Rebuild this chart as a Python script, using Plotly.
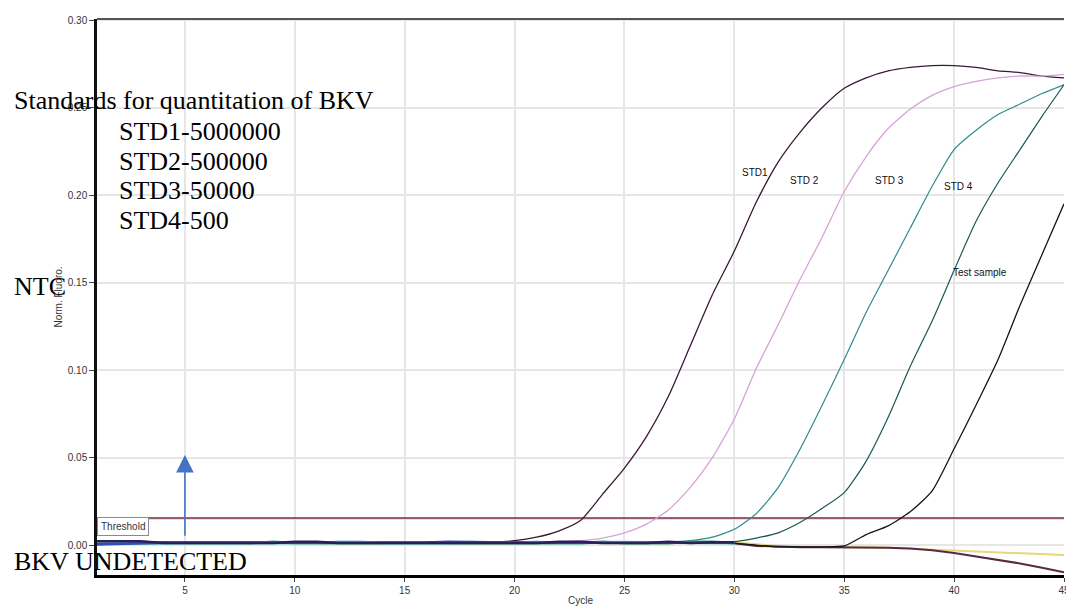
import plotly.graph_objects as go

# ---------------- data ----------------
cycles = list(range(1, 46))

std1 = [0.0020, 0.0020, 0.0018, 0.0016, 0.0015, 0.0015, 0.0015, 0.0015, 0.0015, 0.0015,
        0.0015, 0.0015, 0.0015, 0.0015, 0.0015, 0.0015, 0.0015, 0.0015, 0.0017, 0.0025,
        0.0045, 0.008, 0.014, 0.029, 0.044, 0.062, 0.085, 0.114, 0.143, 0.168,
        0.196, 0.219, 0.236, 0.250, 0.261, 0.267, 0.271, 0.273, 0.274, 0.274,
        0.273, 0.271, 0.270, 0.268, 0.267]
std2 = [0.0015, 0.0015, 0.0015, 0.0015, 0.0015, 0.0015, 0.0015, 0.0015, 0.0015, 0.0015,
        0.0015, 0.0015, 0.0015, 0.0015, 0.0015, 0.0015, 0.0015, 0.0015, 0.0015, 0.0015,
        0.0015, 0.0017, 0.0025, 0.004, 0.007, 0.012, 0.020, 0.033, 0.050, 0.072,
        0.101, 0.126, 0.152, 0.176, 0.202, 0.222, 0.238, 0.249, 0.257, 0.262,
        0.265, 0.267, 0.268, 0.268, 0.269]
std3 = [0.0015, 0.0015, 0.0015, 0.0015, 0.0015, 0.0015, 0.0015, 0.0015, 0.0015, 0.0015,
        0.0015, 0.0015, 0.0015, 0.0015, 0.0015, 0.0015, 0.0015, 0.0015, 0.0015, 0.0015,
        0.0015, 0.0015, 0.0015, 0.0015, 0.0015, 0.0015, 0.0017, 0.0025, 0.0045, 0.009,
        0.018, 0.033, 0.055, 0.080, 0.106, 0.133, 0.157, 0.181, 0.205, 0.226,
        0.237, 0.246, 0.252, 0.258, 0.263]
std4 = [0.0015, 0.0015, 0.0015, 0.0015, 0.0015, 0.0015, 0.0015, 0.0015, 0.0015, 0.0015,
        0.0015, 0.0015, 0.0015, 0.0015, 0.0015, 0.0015, 0.0015, 0.0015, 0.0015, 0.0015,
        0.0015, 0.0015, 0.0015, 0.0015, 0.0015, 0.0015, 0.0015, 0.0015, 0.0016, 0.0020,
        0.004, 0.007, 0.013, 0.021, 0.030, 0.048, 0.073, 0.102, 0.128, 0.157,
        0.185, 0.207, 0.226, 0.245, 0.263]
test_sample = [0.0015, 0.0015, 0.0015, 0.0015, 0.0015, 0.0015, 0.0015, 0.0015, 0.0015, 0.0015,
               0.0015, 0.0015, 0.0015, 0.0015, 0.0015, 0.0015, 0.0015, 0.0015, 0.0015, 0.0015,
               0.0015, 0.0015, 0.0015, 0.0015, 0.0015, 0.0015, 0.0015, 0.0015, 0.0015, 0.001,
               0.0, -0.001, -0.001, -0.001, -0.0005, 0.006, 0.011, 0.019, 0.031, 0.055,
               0.080, 0.106, 0.137, 0.166, 0.195]

neg_cycles_a = list(range(29, 46))
neg_a = [0.0015, 0.001, -0.0005, -0.001, -0.0012, -0.0012, -0.0012, -0.0012, -0.0015,
         -0.002, -0.003, -0.0045, -0.0065, -0.0085, -0.0105, -0.013, -0.0155]
neg_cycles_b = list(range(30, 46))
neg_b = [0.0015, 0.0005, -0.0005, -0.001, -0.001, -0.001, -0.0012, -0.0015, -0.002,
         -0.0025, -0.003, -0.0035, -0.004, -0.0045, -0.005, -0.0057]

base_cycles = list(range(1, 31))
base_navy = [0.0022, 0.0024, 0.0022, 0.0012, 0.0012, 0.0012, 0.0012, 0.0016, 0.0012, 0.0018,
             0.0018, 0.0012, 0.0012, 0.0012, 0.0014, 0.0012, 0.0012, 0.0012, 0.0012, 0.0014,
             0.0012, 0.0018, 0.0018, 0.0012, 0.0012, 0.0012, 0.0018, 0.0012, 0.0016, 0.0016]
base_blue = [0.0004, 0.0008, 0.0010, 0.0013, 0.0013, 0.0013, 0.0013, 0.0012, 0.0013, 0.0013,
             0.0013, 0.0013, 0.0013, 0.0013, 0.0013, 0.0014, 0.0018, 0.0016, 0.0013, 0.0013,
             0.0013, 0.0013, 0.0013, 0.0014, 0.0014, 0.0013, 0.0013, 0.0013, 0.0013, 0.0013]
base_cyan = [0.0010, 0.0010, 0.0011, 0.0014, 0.0014, 0.0014, 0.0014, 0.0011, 0.0014, 0.0011,
             0.0011, 0.0018, 0.0018, 0.0011, 0.0011, 0.0011, 0.0011, 0.0017, 0.0013, 0.0011,
             0.0018, 0.0011, 0.0011, 0.0017, 0.0017, 0.0016, 0.0011, 0.0011, 0.0011, 0.0011]
base_green = [0.0011, 0.0011, 0.0011, 0.0011, 0.0011, 0.0011, 0.0011, 0.0011, 0.0019, 0.0011,
              0.0011, 0.0011, 0.0011, 0.0011, 0.0011, 0.0011, 0.0011, 0.0011, 0.0011, 0.0011,
              0.0011, 0.0011, 0.0011, 0.0019, 0.0011, 0.0011, 0.0011, 0.0019, 0.0019, 0.0011]

threshold = 0.0155
x_ticks = [5, 10, 15, 20, 25, 30, 35, 40, 45]
y_ticks = [0.00, 0.05, 0.10, 0.15, 0.20, 0.25, 0.30]
y_tick_text = ["0.00", "0.05", "0.10", "0.15", "0.20", "0.25", "0.30"]

curve_labels = ["STD1", "STD 2", "STD 3", "STD 4", "Test sample"]
curve_label_x = [30.94, 33.2, 37.08, 40.2, 41.2]
curve_label_y = [0.213, 0.2086, 0.2086, 0.2047, 0.1556]

# ---------------- figure ----------------
W, H = 1066, 614
L, R, T, B = 97, 2, 19, 39


def px(xp):
    return (xp - L) / (W - L - R)


def py(yp):
    return (H - B - yp) / (H - T - B)


fig = go.Figure()

# threshold line
fig.add_trace(go.Scatter(x=[1, 45], y=[threshold - 0.0007, threshold - 0.0007], mode="lines",
                         line=dict(color="#f2c4d4", width=1.2), hoverinfo="skip"))
fig.add_trace(go.Scatter(x=[1, 45], y=[threshold, threshold], mode="lines",
                         line=dict(color="#7a2c3c", width=1.4), hoverinfo="skip"))

fig.add_trace(go.Scatter(x=neg_cycles_b, y=neg_b, mode="lines",
                         line=dict(color="#e6d77a", width=2)))
fig.add_trace(go.Scatter(x=neg_cycles_a, y=neg_a, mode="lines",
                         line=dict(color="#5a2a44", width=2)))

series = [
    (std1, "#3b1838", 1.3),
    (std2, "#d7a2d9", 1.3),
    (std3, "#2e8b8b", 1.2),
    (std4, "#1c5656", 1.2),
    (test_sample, "#151515", 1.3),
]
for vals, col, w in series:
    fig.add_trace(go.Scatter(x=cycles, y=vals, mode="lines",
                             line=dict(color=col, width=w, shape="spline", smoothing=0.6)))

for vals, col in [(base_green, "#3c9a60"), (base_cyan, "#7ccfd8"),
                  (base_blue, "#2b4fb5"), (base_navy, "#2a1f5e")]:
    fig.add_trace(go.Scatter(x=base_cycles, y=vals, mode="lines",
                             line=dict(color=col, width=2.6)))

annotations = []
label_font = dict(family="Liberation Sans Narrow, Arial Narrow, Liberation Sans, Arial",
                  size=10, color="#111")
for t, xv, yv in zip(curve_labels, curve_label_x, curve_label_y):
    annotations.append(dict(x=xv, y=yv, xref="x", yref="y", text=t, showarrow=False,
                            font=label_font))

annotations.append(dict(x=1.0, y=0.0105, xref="x", yref="y", text="Threshold",
                        showarrow=False, xanchor="left", yanchor="middle",
                        font=dict(family="Liberation Sans Narrow, Liberation Sans, Arial",
                                  size=10, color="#333"),
                        bgcolor="white", bordercolor="#8a8a8a", borderwidth=1, borderpad=3))

# blue arrow
annotations.append(dict(x=5, y=0.0515, ax=5, ay=0.0045, xref="x", yref="y",
                        axref="x", ayref="y", text="", showarrow=True,
                        arrowhead=2, arrowsize=2.2, arrowwidth=1.6, arrowcolor="#4472c4"))

serif = dict(family="Liberation Serif, Times New Roman, serif", size=26, color="#000")
text_items = [
    ("Standards for quantitation of BKV", 12, 101),
    ("STD1-5000000", 117, 131),
    ("STD2-500000", 117, 162),
    ("STD3-50000", 117, 191),
    ("STD4-500", 117, 221),
    ("NTC", 12, 286),
    ("BKV UNDETECTED", 12, 561),
]
for t, xp, yp in text_items:
    annotations.append(dict(x=px(xp), y=py(yp), xref="paper", yref="paper", text=t,
                            showarrow=False, xanchor="left", yanchor="middle", font=serif))

tick_font = dict(family="Liberation Sans Narrow, Arial Narrow, Liberation Sans, Arial",
                 size=10, color="#333")

fig.update_layout(
    width=W, height=H,
    margin=dict(l=L, r=R, t=T, b=B, autoexpand=False),
    paper_bgcolor="white", plot_bgcolor="white",
    showlegend=False,
    annotations=annotations,
    xaxis=dict(range=[1, 45], tickvals=x_ticks, showgrid=True, gridcolor="#e6e6e6",
               gridwidth=1.5, zeroline=False, showline=True, linecolor="#000", linewidth=3,
               ticks="outside", ticklen=4, tickcolor="#444", tickfont=tick_font,
               automargin=False, ticklabeloverflow="allow",
               title=dict(text="Cycle", font=tick_font, standoff=2)),
    yaxis=dict(range=[-0.0171, 0.3006], tickvals=y_ticks, ticktext=y_tick_text,
               showgrid=True, gridcolor="#e6e6e6", gridwidth=1.5, zeroline=False,
               showline=True, linecolor="#111", linewidth=2.5,
               ticks="outside", ticklen=5, tickcolor="#444", tickfont=tick_font,
               automargin=False,
               title=dict(text="Norm. Fluoro.", font=tick_font, standoff=4)),
    shapes=[dict(type="line", xref="paper", yref="paper", x0=0, x1=1, y0=1, y1=1,
                 line=dict(color="#555", width=2))],
)

fig.write_html("out.html", config={"displayModeBar": False},
               post_script="document.body.style.margin='0';document.body.style.overflow='hidden';")
